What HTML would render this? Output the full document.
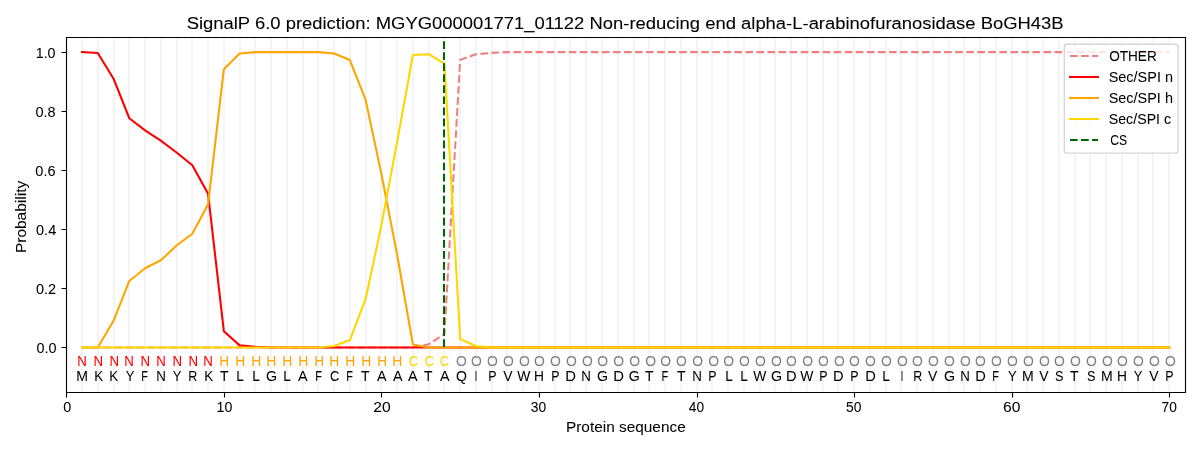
<!DOCTYPE html>
<html><head><meta charset="utf-8"><title>SignalP 6.0 prediction</title>
<style>html,body{margin:0;padding:0;background:#fff;overflow:hidden;}svg{display:block;font-family:"Liberation Sans", sans-serif;will-change:transform;}</style>
</head><body>
<svg width="1200" height="450" viewBox="0 0 1200 450">
<rect x="0" y="0" width="1200" height="450" fill="#ffffff"/>
<defs><clipPath id="cp"><rect x="66.28" y="37.33" width="1118.72" height="354.39"/></clipPath></defs>
<path clip-path="url(#cp)" d="M82 37 V392 M98 37 V392 M114 37 V392 M129 37 V392 M145 37 V392 M161 37 V392 M177 37 V392 M192 37 V392 M208 37 V392 M224 37 V392 M240 37 V392 M255 37 V392 M271 37 V392 M287 37 V392 M303 37 V392 M318 37 V392 M334 37 V392 M350 37 V392 M366 37 V392 M381 37 V392 M397 37 V392 M413 37 V392 M429 37 V392 M444 37 V392 M460 37 V392 M476 37 V392 M492 37 V392 M507 37 V392 M523 37 V392 M539 37 V392 M555 37 V392 M570 37 V392 M586 37 V392 M602 37 V392 M618 37 V392 M634 37 V392 M649 37 V392 M665 37 V392 M681 37 V392 M697 37 V392 M712 37 V392 M728 37 V392 M744 37 V392 M760 37 V392 M775 37 V392 M791 37 V392 M807 37 V392 M823 37 V392 M838 37 V392 M854 37 V392 M870 37 V392 M886 37 V392 M901 37 V392 M917 37 V392 M933 37 V392 M949 37 V392 M964 37 V392 M980 37 V392 M996 37 V392 M1012 37 V392 M1027 37 V392 M1043 37 V392 M1059 37 V392 M1075 37 V392 M1090 37 V392 M1106 37 V392 M1122 37 V392 M1138 37 V392 M1153 37 V392 M1169 37 V392" stroke="#f4f4f4" stroke-width="2.083" fill="none"/>
<polyline clip-path="url(#cp)" points="82.03,347.42 97.79,347.42 113.55,347.42 129.3,347.42 145.06,347.42 160.82,347.42 176.57,347.42 192.33,347.42 208.09,347.42 223.84,347.42 239.6,347.42 255.36,347.42 271.11,347.42 286.87,347.42 302.63,347.42 318.38,347.42 334.14,347.42 349.9,347.42 365.65,347.42 381.41,347.42 397.17,347.42 412.92,347.42 428.68,344.32 444.44,333.93 460.19,59.87 475.95,54.31 491.71,52.84 507.46,52.1 523.22,52.1 538.98,52.1 554.73,52.1 570.49,52.1 586.25,52.1 602,52.1 617.76,52.1 633.52,52.1 649.27,52.1 665.03,52.1 680.79,52.1 696.54,52.1 712.3,52.1 728.06,52.1 743.81,52.1 759.57,52.1 775.33,52.1 791.08,52.1 806.84,52.1 822.6,52.1 838.35,52.1 854.11,52.1 869.87,52.1 885.62,52.1 901.38,52.1 917.14,52.1 932.89,52.1 948.65,52.1 964.41,52.1 980.16,52.1 995.92,52.1 1011.68,52.1 1027.43,52.1 1043.19,52.1 1058.95,52.1 1074.7,52.1 1090.46,52.1 1106.22,52.1 1121.97,52.1 1137.73,52.1 1153.49,52.1 1169.24,52.1" fill="none" stroke="#f08080" stroke-width="2.083" stroke-linejoin="round" stroke-dasharray="7.708 3.333" stroke-dashoffset="0.9"/>
<polyline clip-path="url(#cp)" points="82.03,52.1 97.79,52.99 113.55,78.68 129.3,118.25 145.06,130.36 160.82,140.7 176.57,152.51 192.33,165.21 208.09,193.86 223.84,331.18 239.6,345.36 255.36,346.83 271.11,347.42 286.87,347.42 302.63,347.42 318.38,347.42 334.14,347.42 349.9,347.42 365.65,347.42 381.41,347.42 397.17,347.42 412.92,347.42 428.68,347.42 444.44,347.42 460.19,347.42 475.95,347.42 491.71,347.42 507.46,347.42 523.22,347.42 538.98,347.42 554.73,347.42 570.49,347.42 586.25,347.42 602,347.42 617.76,347.42 633.52,347.42 649.27,347.42 665.03,347.42 680.79,347.42 696.54,347.42 712.3,347.42 728.06,347.42 743.81,347.42 759.57,347.42 775.33,347.42 791.08,347.42 806.84,347.42 822.6,347.42 838.35,347.42 854.11,347.42 869.87,347.42 885.62,347.42 901.38,347.42 917.14,347.42 932.89,347.42 948.65,347.42 964.41,347.42 980.16,347.42 995.92,347.42 1011.68,347.42 1027.43,347.42 1043.19,347.42 1058.95,347.42 1074.7,347.42 1090.46,347.42 1106.22,347.42 1121.97,347.42 1137.73,347.42 1153.49,347.42 1169.24,347.42" fill="none" stroke="#ff0000" stroke-width="2.083" stroke-linejoin="round" stroke-linecap="square"/>
<polyline clip-path="url(#cp)" points="82.03,347.42 97.79,347.42 113.55,320.84 129.3,280.98 145.06,268.28 160.82,260.3 176.57,245.54 192.33,233.72 208.09,204.19 223.84,69.23 239.6,53.58 255.36,52.1 271.11,52.1 286.87,52.1 302.63,52.1 318.38,52.1 334.14,53.58 349.9,60.07 365.65,99.94 381.41,174.07 397.17,254.99 412.92,344.47 428.68,347.42 444.44,347.42 460.19,347.42 475.95,347.42 491.71,347.42 507.46,347.42 523.22,347.42 538.98,347.42 554.73,347.42 570.49,347.42 586.25,347.42 602,347.42 617.76,347.42 633.52,347.42 649.27,347.42 665.03,347.42 680.79,347.42 696.54,347.42 712.3,347.42 728.06,347.42 743.81,347.42 759.57,347.42 775.33,347.42 791.08,347.42 806.84,347.42 822.6,347.42 838.35,347.42 854.11,347.42 869.87,347.42 885.62,347.42 901.38,347.42 917.14,347.42 932.89,347.42 948.65,347.42 964.41,347.42 980.16,347.42 995.92,347.42 1011.68,347.42 1027.43,347.42 1043.19,347.42 1058.95,347.42 1074.7,347.42 1090.46,347.42 1106.22,347.42 1121.97,347.42 1137.73,347.42 1153.49,347.42 1169.24,347.42" fill="none" stroke="#ffa500" stroke-width="2.083" stroke-linejoin="round" stroke-linecap="square"/>
<polyline clip-path="url(#cp)" points="82.03,347.42 97.79,347.42 113.55,347.42 129.3,347.42 145.06,347.42 160.82,347.42 176.57,347.42 192.33,347.42 208.09,347.42 223.84,347.42 239.6,347.42 255.36,347.42 271.11,347.42 286.87,347.42 302.63,347.42 318.38,347.42 334.14,345.95 349.9,340.04 365.65,298.99 381.41,225.16 397.17,141.58 412.92,55.05 428.68,54.17 444.44,63.62 460.19,339.15 475.95,345.95 491.71,347.42 507.46,347.42 523.22,347.42 538.98,347.42 554.73,347.42 570.49,347.42 586.25,347.42 602,347.42 617.76,347.42 633.52,347.42 649.27,347.42 665.03,347.42 680.79,347.42 696.54,347.42 712.3,347.42 728.06,347.42 743.81,347.42 759.57,347.42 775.33,347.42 791.08,347.42 806.84,347.42 822.6,347.42 838.35,347.42 854.11,347.42 869.87,347.42 885.62,347.42 901.38,347.42 917.14,347.42 932.89,347.42 948.65,347.42 964.41,347.42 980.16,347.42 995.92,347.42 1011.68,347.42 1027.43,347.42 1043.19,347.42 1058.95,347.42 1074.7,347.42 1090.46,347.42 1106.22,347.42 1121.97,347.42 1137.73,347.42 1153.49,347.42 1169.24,347.42" fill="none" stroke="#ffd700" stroke-width="2.083" stroke-linejoin="round" stroke-linecap="square"/>
<path clip-path="url(#cp)" d="M444 347 V32" stroke="#006400" stroke-width="2.083" stroke-dasharray="7.708 3.333" fill="none"/>
<path d="M66.5 37.5 H1185.5 M66.5 392.5 H1185.5 M66.5 37.5 V392.5 M1185.5 37.5 V392.5" stroke="#000" stroke-width="1.111" fill="none" stroke-linecap="square"/>
<path d="M66.5 392.5 V397.5 M224.5 392.5 V397.5 M381.5 392.5 V397.5 M539.5 392.5 V397.5 M697.5 392.5 V397.5 M854.5 392.5 V397.5 M1012.5 392.5 V397.5 M1169.5 392.5 V397.5 M66.5 347.5 H61.5 M66.5 288.5 H61.5 M66.5 229.5 H61.5 M66.5 170.5 H61.5 M66.5 111.5 H61.5 M66.5 52.5 H61.5" stroke="#000" stroke-width="1.111" fill="none"/>
<g font-size="14.45" stroke="#000" stroke-width="0.04">
<text x="82.16" y="366.19" text-anchor="middle" fill="#ff0000" stroke="#ff0000" textLength="9.58" lengthAdjust="spacingAndGlyphs">N</text>
<text x="82.01" y="380.96" text-anchor="middle" textLength="11.71" lengthAdjust="spacingAndGlyphs">M</text>
<text x="98.24" y="366.19" text-anchor="middle" fill="#ff0000" stroke="#ff0000" textLength="9.58" lengthAdjust="spacingAndGlyphs">N</text>
<text x="98.8" y="380.96" text-anchor="middle" textLength="8.94" lengthAdjust="spacingAndGlyphs">K</text>
<text x="114.19" y="366.19" text-anchor="middle" fill="#ff0000" stroke="#ff0000" textLength="9.58" lengthAdjust="spacingAndGlyphs">N</text>
<text x="113.8" y="380.96" text-anchor="middle" textLength="8.94" lengthAdjust="spacingAndGlyphs">K</text>
<text x="129.14" y="366.19" text-anchor="middle" fill="#ff0000" stroke="#ff0000" textLength="9.58" lengthAdjust="spacingAndGlyphs">N</text>
<text x="130.17" y="380.96" text-anchor="middle" textLength="8.69" lengthAdjust="spacingAndGlyphs">Y</text>
<text x="145.24" y="366.19" text-anchor="middle" fill="#ff0000" stroke="#ff0000" textLength="9.59" lengthAdjust="spacingAndGlyphs">N</text>
<text x="144.59" y="380.96" text-anchor="middle" textLength="6.63" lengthAdjust="spacingAndGlyphs">F</text>
<text x="161.16" y="366.19" text-anchor="middle" fill="#ff0000" stroke="#ff0000" textLength="9.58" lengthAdjust="spacingAndGlyphs">N</text>
<text x="161.07" y="380.96" text-anchor="middle" textLength="9.61" lengthAdjust="spacingAndGlyphs">N</text>
<text x="177.23" y="366.19" text-anchor="middle" fill="#ff0000" stroke="#ff0000" textLength="9.59" lengthAdjust="spacingAndGlyphs">N</text>
<text x="177.13" y="380.96" text-anchor="middle" textLength="8.67" lengthAdjust="spacingAndGlyphs">Y</text>
<text x="193.17" y="366.19" text-anchor="middle" fill="#ff0000" stroke="#ff0000" textLength="9.58" lengthAdjust="spacingAndGlyphs">N</text>
<text x="192.81" y="380.96" text-anchor="middle" textLength="9" lengthAdjust="spacingAndGlyphs">R</text>
<text x="208.04" y="366.19" text-anchor="middle" fill="#ff0000" stroke="#ff0000" textLength="9.57" lengthAdjust="spacingAndGlyphs">N</text>
<text x="208.68" y="380.96" text-anchor="middle" textLength="8.94" lengthAdjust="spacingAndGlyphs">K</text>
<text x="224.25" y="366.19" text-anchor="middle" fill="#ffa500" stroke="#ffa500" textLength="9.85" lengthAdjust="spacingAndGlyphs">H</text>
<text x="224.16" y="380.96" text-anchor="middle" textLength="8.5" lengthAdjust="spacingAndGlyphs">T</text>
<text x="240.27" y="366.19" text-anchor="middle" fill="#ffa500" stroke="#ffa500" textLength="10.03" lengthAdjust="spacingAndGlyphs">H</text>
<text x="239.97" y="380.96" text-anchor="middle" textLength="7.53" lengthAdjust="spacingAndGlyphs">L</text>
<text x="256.28" y="366.19" text-anchor="middle" fill="#ffa500" stroke="#ffa500" textLength="10.04" lengthAdjust="spacingAndGlyphs">H</text>
<text x="255.92" y="380.96" text-anchor="middle" textLength="7.53" lengthAdjust="spacingAndGlyphs">L</text>
<text x="271.19" y="366.19" text-anchor="middle" fill="#ffa500" stroke="#ffa500" textLength="10.03" lengthAdjust="spacingAndGlyphs">H</text>
<text x="271.5" y="380.96" text-anchor="middle" textLength="11.07" lengthAdjust="spacingAndGlyphs">G</text>
<text x="287.19" y="366.19" text-anchor="middle" fill="#ffa500" stroke="#ffa500" textLength="10.03" lengthAdjust="spacingAndGlyphs">H</text>
<text x="286.94" y="380.96" text-anchor="middle" textLength="7.53" lengthAdjust="spacingAndGlyphs">L</text>
<text x="303.24" y="366.19" text-anchor="middle" fill="#ffa500" stroke="#ffa500" textLength="10.03" lengthAdjust="spacingAndGlyphs">H</text>
<text x="302.74" y="380.96" text-anchor="middle" textLength="9.58" lengthAdjust="spacingAndGlyphs">A</text>
<text x="319.18" y="366.19" text-anchor="middle" fill="#ffa500" stroke="#ffa500" textLength="9.85" lengthAdjust="spacingAndGlyphs">H</text>
<text x="318.59" y="380.96" text-anchor="middle" textLength="6.66" lengthAdjust="spacingAndGlyphs">F</text>
<text x="334.23" y="366.19" text-anchor="middle" fill="#ffa500" stroke="#ffa500" textLength="10.03" lengthAdjust="spacingAndGlyphs">H</text>
<text x="334.57" y="380.96" text-anchor="middle" textLength="9.32" lengthAdjust="spacingAndGlyphs">C</text>
<text x="350.21" y="366.19" text-anchor="middle" fill="#ffa500" stroke="#ffa500" textLength="10.04" lengthAdjust="spacingAndGlyphs">H</text>
<text x="349.63" y="380.96" text-anchor="middle" textLength="6.66" lengthAdjust="spacingAndGlyphs">F</text>
<text x="366.2" y="366.19" text-anchor="middle" fill="#ffa500" stroke="#ffa500" textLength="10.03" lengthAdjust="spacingAndGlyphs">H</text>
<text x="365.16" y="380.96" text-anchor="middle" textLength="8.5" lengthAdjust="spacingAndGlyphs">T</text>
<text x="382.15" y="366.19" text-anchor="middle" fill="#ffa500" stroke="#ffa500" textLength="9.86" lengthAdjust="spacingAndGlyphs">H</text>
<text x="381.79" y="380.96" text-anchor="middle" textLength="9.58" lengthAdjust="spacingAndGlyphs">A</text>
<text x="397.26" y="366.19" text-anchor="middle" fill="#ffa500" stroke="#ffa500" textLength="10.02" lengthAdjust="spacingAndGlyphs">H</text>
<text x="397.77" y="380.96" text-anchor="middle" textLength="9.58" lengthAdjust="spacingAndGlyphs">A</text>
<text x="413.49" y="366.19" text-anchor="middle" fill="#ffd700" stroke="#ffd700" textLength="9.3" lengthAdjust="spacingAndGlyphs">C</text>
<text x="412.77" y="380.96" text-anchor="middle" textLength="9.58" lengthAdjust="spacingAndGlyphs">A</text>
<text x="429.5" y="366.19" text-anchor="middle" fill="#ffd700" stroke="#ffd700" textLength="9.3" lengthAdjust="spacingAndGlyphs">C</text>
<text x="428.18" y="380.96" text-anchor="middle" textLength="8.51" lengthAdjust="spacingAndGlyphs">T</text>
<text x="444.5" y="366.19" text-anchor="middle" fill="#ffd700" stroke="#ffd700" textLength="9.3" lengthAdjust="spacingAndGlyphs">C</text>
<text x="444.79" y="380.96" text-anchor="middle" textLength="9.58" lengthAdjust="spacingAndGlyphs">A</text>
<text x="461.47" y="366.19" text-anchor="middle" fill="#808080" stroke="#808080" textLength="10.83" lengthAdjust="spacingAndGlyphs">O</text>
<text x="461.47" y="380.96" text-anchor="middle" textLength="10.94" lengthAdjust="spacingAndGlyphs">Q</text>
<text x="476.48" y="366.19" text-anchor="middle" fill="#808080" stroke="#808080" textLength="10.83" lengthAdjust="spacingAndGlyphs">O</text>
<text x="476.04" y="380.96" text-anchor="middle" textLength="2.42" lengthAdjust="spacingAndGlyphs">I</text>
<text x="492.5" y="366.19" text-anchor="middle" fill="#808080" stroke="#808080" textLength="10.83" lengthAdjust="spacingAndGlyphs">O</text>
<text x="492.48" y="380.96" text-anchor="middle" textLength="8.3" lengthAdjust="spacingAndGlyphs">P</text>
<text x="508.5" y="366.19" text-anchor="middle" fill="#808080" stroke="#808080" textLength="10.82" lengthAdjust="spacingAndGlyphs">O</text>
<text x="507.85" y="380.96" text-anchor="middle" textLength="9.32" lengthAdjust="spacingAndGlyphs">V</text>
<text x="524.51" y="366.19" text-anchor="middle" fill="#808080" stroke="#808080" textLength="10.83" lengthAdjust="spacingAndGlyphs">O</text>
<text x="523.77" y="380.96" text-anchor="middle" textLength="13.09" lengthAdjust="spacingAndGlyphs">W</text>
<text x="539.52" y="366.19" text-anchor="middle" fill="#808080" stroke="#808080" textLength="10.83" lengthAdjust="spacingAndGlyphs">O</text>
<text x="539.07" y="380.96" text-anchor="middle" textLength="9.92" lengthAdjust="spacingAndGlyphs">H</text>
<text x="555.52" y="366.19" text-anchor="middle" fill="#808080" stroke="#808080" textLength="10.83" lengthAdjust="spacingAndGlyphs">O</text>
<text x="555.47" y="380.96" text-anchor="middle" textLength="8.29" lengthAdjust="spacingAndGlyphs">P</text>
<text x="571.53" y="366.19" text-anchor="middle" fill="#808080" stroke="#808080" textLength="10.82" lengthAdjust="spacingAndGlyphs">O</text>
<text x="570.55" y="380.96" text-anchor="middle" textLength="10.71" lengthAdjust="spacingAndGlyphs">D</text>
<text x="587.53" y="366.19" text-anchor="middle" fill="#808080" stroke="#808080" textLength="10.82" lengthAdjust="spacingAndGlyphs">O</text>
<text x="586.06" y="380.96" text-anchor="middle" textLength="9.61" lengthAdjust="spacingAndGlyphs">N</text>
<text x="602.54" y="366.19" text-anchor="middle" fill="#808080" stroke="#808080" textLength="10.82" lengthAdjust="spacingAndGlyphs">O</text>
<text x="602.63" y="380.96" text-anchor="middle" textLength="11.05" lengthAdjust="spacingAndGlyphs">G</text>
<text x="618.55" y="366.19" text-anchor="middle" fill="#808080" stroke="#808080" textLength="10.82" lengthAdjust="spacingAndGlyphs">O</text>
<text x="618.56" y="380.96" text-anchor="middle" textLength="10.71" lengthAdjust="spacingAndGlyphs">D</text>
<text x="634.55" y="366.19" text-anchor="middle" fill="#808080" stroke="#808080" textLength="10.82" lengthAdjust="spacingAndGlyphs">O</text>
<text x="634.34" y="380.96" text-anchor="middle" textLength="11.04" lengthAdjust="spacingAndGlyphs">G</text>
<text x="650.56" y="366.19" text-anchor="middle" fill="#808080" stroke="#808080" textLength="10.82" lengthAdjust="spacingAndGlyphs">O</text>
<text x="649.29" y="380.96" text-anchor="middle" textLength="8.5" lengthAdjust="spacingAndGlyphs">T</text>
<text x="665.57" y="366.19" text-anchor="middle" fill="#808080" stroke="#808080" textLength="10.82" lengthAdjust="spacingAndGlyphs">O</text>
<text x="664.78" y="380.96" text-anchor="middle" textLength="6.71" lengthAdjust="spacingAndGlyphs">F</text>
<text x="681.31" y="366.19" text-anchor="middle" fill="#808080" stroke="#808080" textLength="10.83" lengthAdjust="spacingAndGlyphs">O</text>
<text x="681.37" y="380.96" text-anchor="middle" textLength="8.5" lengthAdjust="spacingAndGlyphs">T</text>
<text x="697.58" y="366.19" text-anchor="middle" fill="#808080" stroke="#808080" textLength="10.82" lengthAdjust="spacingAndGlyphs">O</text>
<text x="697.06" y="380.96" text-anchor="middle" textLength="9.61" lengthAdjust="spacingAndGlyphs">N</text>
<text x="713.58" y="366.19" text-anchor="middle" fill="#808080" stroke="#808080" textLength="10.82" lengthAdjust="spacingAndGlyphs">O</text>
<text x="712.36" y="380.96" text-anchor="middle" textLength="8.29" lengthAdjust="spacingAndGlyphs">P</text>
<text x="728.58" y="366.19" text-anchor="middle" fill="#808080" stroke="#808080" textLength="10.82" lengthAdjust="spacingAndGlyphs">O</text>
<text x="728.91" y="380.96" text-anchor="middle" textLength="7.53" lengthAdjust="spacingAndGlyphs">L</text>
<text x="744.31" y="366.19" text-anchor="middle" fill="#808080" stroke="#808080" textLength="10.84" lengthAdjust="spacingAndGlyphs">O</text>
<text x="743.94" y="380.96" text-anchor="middle" textLength="7.53" lengthAdjust="spacingAndGlyphs">L</text>
<text x="760.31" y="366.19" text-anchor="middle" fill="#808080" stroke="#808080" textLength="10.83" lengthAdjust="spacingAndGlyphs">O</text>
<text x="759.89" y="380.96" text-anchor="middle" textLength="13.1" lengthAdjust="spacingAndGlyphs">W</text>
<text x="776.33" y="366.19" text-anchor="middle" fill="#808080" stroke="#808080" textLength="10.83" lengthAdjust="spacingAndGlyphs">O</text>
<text x="776.46" y="380.96" text-anchor="middle" textLength="11.07" lengthAdjust="spacingAndGlyphs">G</text>
<text x="791.34" y="366.19" text-anchor="middle" fill="#808080" stroke="#808080" textLength="10.83" lengthAdjust="spacingAndGlyphs">O</text>
<text x="791.44" y="380.96" text-anchor="middle" textLength="10.6" lengthAdjust="spacingAndGlyphs">D</text>
<text x="807.58" y="366.19" text-anchor="middle" fill="#808080" stroke="#808080" textLength="10.84" lengthAdjust="spacingAndGlyphs">O</text>
<text x="806.91" y="380.96" text-anchor="middle" textLength="13.11" lengthAdjust="spacingAndGlyphs">W</text>
<text x="823.33" y="366.19" text-anchor="middle" fill="#808080" stroke="#808080" textLength="10.83" lengthAdjust="spacingAndGlyphs">O</text>
<text x="823.4" y="380.96" text-anchor="middle" textLength="8.3" lengthAdjust="spacingAndGlyphs">P</text>
<text x="839.33" y="366.19" text-anchor="middle" fill="#808080" stroke="#808080" textLength="10.83" lengthAdjust="spacingAndGlyphs">O</text>
<text x="838.41" y="380.96" text-anchor="middle" textLength="10.6" lengthAdjust="spacingAndGlyphs">D</text>
<text x="854.32" y="366.19" text-anchor="middle" fill="#808080" stroke="#808080" textLength="10.83" lengthAdjust="spacingAndGlyphs">O</text>
<text x="854.41" y="380.96" text-anchor="middle" textLength="8.3" lengthAdjust="spacingAndGlyphs">P</text>
<text x="870.33" y="366.19" text-anchor="middle" fill="#808080" stroke="#808080" textLength="10.83" lengthAdjust="spacingAndGlyphs">O</text>
<text x="870.45" y="380.96" text-anchor="middle" textLength="10.61" lengthAdjust="spacingAndGlyphs">D</text>
<text x="886.36" y="366.19" text-anchor="middle" fill="#808080" stroke="#808080" textLength="10.83" lengthAdjust="spacingAndGlyphs">O</text>
<text x="885.95" y="380.96" text-anchor="middle" textLength="7.53" lengthAdjust="spacingAndGlyphs">L</text>
<text x="902.38" y="366.19" text-anchor="middle" fill="#808080" stroke="#808080" textLength="10.82" lengthAdjust="spacingAndGlyphs">O</text>
<text x="902.05" y="380.96" text-anchor="middle" textLength="2.47" lengthAdjust="spacingAndGlyphs">I</text>
<text x="917.35" y="366.19" text-anchor="middle" fill="#808080" stroke="#808080" textLength="10.83" lengthAdjust="spacingAndGlyphs">O</text>
<text x="917.71" y="380.96" text-anchor="middle" textLength="9" lengthAdjust="spacingAndGlyphs">R</text>
<text x="933.4" y="366.19" text-anchor="middle" fill="#808080" stroke="#808080" textLength="10.83" lengthAdjust="spacingAndGlyphs">O</text>
<text x="932.76" y="380.96" text-anchor="middle" textLength="9.29" lengthAdjust="spacingAndGlyphs">V</text>
<text x="949.4" y="366.19" text-anchor="middle" fill="#808080" stroke="#808080" textLength="10.83" lengthAdjust="spacingAndGlyphs">O</text>
<text x="949.53" y="380.96" text-anchor="middle" textLength="11.07" lengthAdjust="spacingAndGlyphs">G</text>
<text x="965.45" y="366.19" text-anchor="middle" fill="#808080" stroke="#808080" textLength="10.83" lengthAdjust="spacingAndGlyphs">O</text>
<text x="965.15" y="380.96" text-anchor="middle" textLength="9.6" lengthAdjust="spacingAndGlyphs">N</text>
<text x="980.41" y="366.19" text-anchor="middle" fill="#808080" stroke="#808080" textLength="10.83" lengthAdjust="spacingAndGlyphs">O</text>
<text x="980.48" y="380.96" text-anchor="middle" textLength="10.6" lengthAdjust="spacingAndGlyphs">D</text>
<text x="996.45" y="366.19" text-anchor="middle" fill="#808080" stroke="#808080" textLength="10.83" lengthAdjust="spacingAndGlyphs">O</text>
<text x="995.65" y="380.96" text-anchor="middle" textLength="6.66" lengthAdjust="spacingAndGlyphs">F</text>
<text x="1012.47" y="366.19" text-anchor="middle" fill="#808080" stroke="#808080" textLength="10.83" lengthAdjust="spacingAndGlyphs">O</text>
<text x="1012.25" y="380.96" text-anchor="middle" textLength="8.67" lengthAdjust="spacingAndGlyphs">Y</text>
<text x="1028.48" y="366.19" text-anchor="middle" fill="#808080" stroke="#808080" textLength="10.83" lengthAdjust="spacingAndGlyphs">O</text>
<text x="1027.92" y="380.96" text-anchor="middle" textLength="11.72" lengthAdjust="spacingAndGlyphs">M</text>
<text x="1044.47" y="366.19" text-anchor="middle" fill="#808080" stroke="#808080" textLength="10.83" lengthAdjust="spacingAndGlyphs">O</text>
<text x="1043.84" y="380.96" text-anchor="middle" textLength="9.32" lengthAdjust="spacingAndGlyphs">V</text>
<text x="1059.48" y="366.19" text-anchor="middle" fill="#808080" stroke="#808080" textLength="10.83" lengthAdjust="spacingAndGlyphs">O</text>
<text x="1059.19" y="380.96" text-anchor="middle" textLength="8.46" lengthAdjust="spacingAndGlyphs">S</text>
<text x="1075.49" y="366.19" text-anchor="middle" fill="#808080" stroke="#808080" textLength="10.83" lengthAdjust="spacingAndGlyphs">O</text>
<text x="1074.21" y="380.96" text-anchor="middle" textLength="8.51" lengthAdjust="spacingAndGlyphs">T</text>
<text x="1091.5" y="366.19" text-anchor="middle" fill="#808080" stroke="#808080" textLength="10.82" lengthAdjust="spacingAndGlyphs">O</text>
<text x="1091.19" y="380.96" text-anchor="middle" textLength="8.46" lengthAdjust="spacingAndGlyphs">S</text>
<text x="1107.5" y="366.19" text-anchor="middle" fill="#808080" stroke="#808080" textLength="10.83" lengthAdjust="spacingAndGlyphs">O</text>
<text x="1106.96" y="380.96" text-anchor="middle" textLength="11.71" lengthAdjust="spacingAndGlyphs">M</text>
<text x="1122.51" y="366.19" text-anchor="middle" fill="#808080" stroke="#808080" textLength="10.83" lengthAdjust="spacingAndGlyphs">O</text>
<text x="1122.05" y="380.96" text-anchor="middle" textLength="9.94" lengthAdjust="spacingAndGlyphs">H</text>
<text x="1138.52" y="366.19" text-anchor="middle" fill="#808080" stroke="#808080" textLength="10.83" lengthAdjust="spacingAndGlyphs">O</text>
<text x="1138.07" y="380.96" text-anchor="middle" textLength="8.67" lengthAdjust="spacingAndGlyphs">Y</text>
<text x="1154.53" y="366.19" text-anchor="middle" fill="#808080" stroke="#808080" textLength="10.82" lengthAdjust="spacingAndGlyphs">O</text>
<text x="1153.87" y="380.96" text-anchor="middle" textLength="9.32" lengthAdjust="spacingAndGlyphs">V</text>
<text x="1170.53" y="366.19" text-anchor="middle" fill="#808080" stroke="#808080" textLength="10.82" lengthAdjust="spacingAndGlyphs">O</text>
<text x="1169.48" y="380.96" text-anchor="middle" textLength="8.3" lengthAdjust="spacingAndGlyphs">P</text>
<text x="625.85" y="432" text-anchor="middle" textLength="119.78" lengthAdjust="spacingAndGlyphs">Protein sequence</text>
<text x="67.3" y="412.44" text-anchor="middle" textLength="8.02" lengthAdjust="spacingAndGlyphs">0</text>
<text x="224.39" y="412.44" text-anchor="middle" textLength="15.83" lengthAdjust="spacingAndGlyphs">10</text>
<text x="382" y="412.44" text-anchor="middle" textLength="17.39" lengthAdjust="spacingAndGlyphs">20</text>
<text x="538.54" y="412.44" text-anchor="middle" textLength="15.36" lengthAdjust="spacingAndGlyphs">30</text>
<text x="696.44" y="412.44" text-anchor="middle" textLength="15.25" lengthAdjust="spacingAndGlyphs">40</text>
<text x="853.7" y="412.44" text-anchor="middle" textLength="15.44" lengthAdjust="spacingAndGlyphs">50</text>
<text x="1011.79" y="412.44" text-anchor="middle" textLength="17.37" lengthAdjust="spacingAndGlyphs">60</text>
<text x="1169.3" y="412.44" text-anchor="middle" textLength="15.36" lengthAdjust="spacingAndGlyphs">70</text>
<text x="26" y="216.95" text-anchor="middle" transform="rotate(-90 26 216.95)" textLength="72.3" lengthAdjust="spacingAndGlyphs">Probability</text>
<text x="46.4" y="352.92" text-anchor="middle" textLength="20.03" lengthAdjust="spacingAndGlyphs">0.0</text>
<text x="46.09" y="293.86" text-anchor="middle" textLength="20.17" lengthAdjust="spacingAndGlyphs">0.2</text>
<text x="46.12" y="234.79" text-anchor="middle" textLength="20.22" lengthAdjust="spacingAndGlyphs">0.4</text>
<text x="45.43" y="175.73" text-anchor="middle" textLength="20.25" lengthAdjust="spacingAndGlyphs">0.6</text>
<text x="45.58" y="116.66" text-anchor="middle" textLength="20.24" lengthAdjust="spacingAndGlyphs">0.8</text>
<text x="45.64" y="57.6" text-anchor="middle" textLength="19.88" lengthAdjust="spacingAndGlyphs">1.0</text>
<text x="625.14" y="29" text-anchor="middle" font-size="17.34" stroke-width="0.08" textLength="876.99" lengthAdjust="spacingAndGlyphs">SignalP 6.0 prediction: MGYG000001771_01122 Non-reducing end alpha-L-arabinofuranosidase BoGH43B</text>
</g>
<path d="M1067.08 153.17 L1175.28 153.17 Q1178.06 153.17 1178.06 150.39 L1178.06 47.06 Q1178.06 44.28 1175.28 44.28 L1067.08 44.28 Q1064.31 44.28 1064.31 47.06 L1064.31 150.39 Q1064.31 153.17 1067.08 153.17 Z" fill="#ffffff" fill-opacity="0.8" stroke="#cccccc" stroke-opacity="0.8" stroke-width="1.389"/>
<path d="M1070 56 H1098" stroke="#f08080" stroke-width="2.083" fill="none" stroke-dasharray="7.708 3.333"/>
<path d="M1070 77 H1098" stroke="#ff0000" stroke-width="2.083" fill="none" stroke-linecap="square"/>
<path d="M1070 98 H1098" stroke="#ffa500" stroke-width="2.083" fill="none" stroke-linecap="square"/>
<path d="M1070 119 H1098" stroke="#ffd700" stroke-width="2.083" fill="none" stroke-linecap="square"/>
<path d="M1070 140 H1098" stroke="#006400" stroke-width="2.083" fill="none" stroke-dasharray="7.708 3.333"/>
<g font-size="14.45" stroke="#000" stroke-width="0.04">
<text x="1132.95" y="60.83" text-anchor="middle" textLength="47.55" lengthAdjust="spacingAndGlyphs">OTHER</text>
<text x="1140.84" y="81.78" text-anchor="middle" textLength="64.33" lengthAdjust="spacingAndGlyphs">Sec/SPI n</text>
<text x="1140.83" y="102.72" text-anchor="middle" textLength="64.23" lengthAdjust="spacingAndGlyphs">Sec/SPI h</text>
<text x="1139.93" y="123.67" text-anchor="middle" textLength="62.31" lengthAdjust="spacingAndGlyphs">Sec/SPI c</text>
<text x="1118.8" y="144.61" text-anchor="middle" textLength="16.89" lengthAdjust="spacingAndGlyphs">CS</text>
</g>
</svg>
</body></html>
